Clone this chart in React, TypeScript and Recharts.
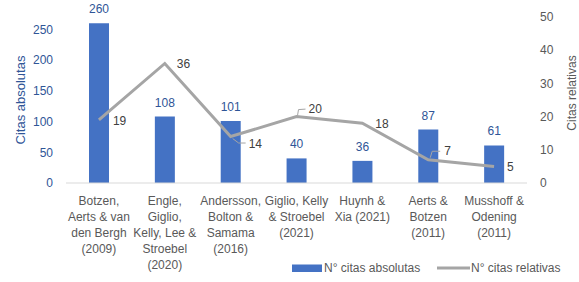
import React from "react";
import { ComposedChart, Bar, Line, XAxis, YAxis, LabelList, Legend } from "recharts";

const categories = [
  "Botzen,\nAerts & van\nden Bergh\n(2009)",
  "Engle,\nGiglio,\nKelly, Lee &\nStroebel\n(2020)",
  "Andersson,\nBolton &\nSamama\n(2016)",
  "Giglio, Kelly\n& Stroebel\n(2021)",
  "Huynh &\nXia (2021)",
  "Aerts &\nBotzen\n(2011)",
  "Musshoff &\nOdening\n(2011)",
];
const citasAbsolutas = [260, 108, 101, 40, 36, 87, 61];
const citasRelativas = [19, 36, 14, 20, 18, 7, 5];
const leftTicks = [0, 50, 100, 150, 200, 250];
const rightTicks = [0, 10, 20, 30, 40, 50];
const seriesNames = ["N° citas absolutas", "N° citas relativas"];
const axisTitles = ["Citas absolutas", "Citas relativas"];

const data = categories.map((name, i) => ({
  name,
  abs: citasAbsolutas[i],
  rel: citasRelativas[i],
}));

const FONT = "'Liberation Sans', Arial, sans-serif";
const BLUE = "#4472C4";
const BLUE_TEXT = "#2F5597";
const GREY_LINE = "#A5A5A5";
const GREY_TEXT = "#595959";
const DARK_TEXT = "#404040";

// label placement styles for the line labels: [dx, dy, leader type]
const relLabelStyle: [number, number, string][] = [
  [14, 1, ""],
  [12, 1, ""],
  [18, 7, "down"],
  [12, -7.5, "up"],
  [13, 1, ""],
  [16, -8.5, "up2"],
  [13, 0.5, ""],
];

const CategoryTick = (props: any) => {
  const { x, y, payload } = props;
  const lines = String(payload.value).split("\n");
  return (
    <text x={x} y={y} textAnchor="middle" fill={GREY_TEXT} fontSize={12} fontFamily={FONT}>
      {lines.map((l, i) => (
        <tspan key={i} x={x} dy={i === 0 ? 22 : 16}>
          {l}
        </tspan>
      ))}
    </text>
  );
};

const RelLabel = (props: any) => {
  const { x, y, value, index } = props;
  const [dx, dy, leader] = relLabelStyle[index] || [12, 0, ""];
  let path = "";
  if (leader === "down") path = `M${x + 2},${y + 2} L${x + 8},${y + 6.5} L${x + 15},${y + 6.5}`;
  if (leader === "up") path = `M${x + 1},${y - 1} L${x + 2},${y - 7} L${x + 9},${y - 7.5}`;
  if (leader === "up2") path = `M${x + 2},${y - 2} L${x + 4},${y - 8.5} L${x + 12},${y - 8.5}`;
  return (
    <g>
      {path && <path d={path} stroke={GREY_LINE} strokeWidth={1} fill="none" />}
      <text
        x={x + dx}
        y={y + dy}
        dominantBaseline="central"
        textAnchor="start"
        fill={DARK_TEXT}
        fontSize={12}
        fontFamily={FONT}
      >
        {value}
      </text>
    </g>
  );
};

const LegendContent = () => (
  <svg width={579} height={20} style={{ display: "block" }}>
    <rect x={292} y={6.5} width={30} height={7.5} fill={BLUE} />
    <text x={324} y={10} dominantBaseline="central" fill={GREY_TEXT} fontSize={12} fontFamily={FONT}>
      {seriesNames[0]}
    </text>
    <line x1={437} x2={470} y1={10} y2={10} stroke={GREY_LINE} strokeWidth={3} />
    <text x={471} y={10} dominantBaseline="central" fill={GREY_TEXT} fontSize={12} fontFamily={FONT}>
      {seriesNames[1]}
    </text>
  </svg>
);

export default function App() {
  return (
    <div style={{ position: "absolute", left: 0, top: 0, width: 579, height: 282, background: "#fff" }}>
      <ComposedChart
        width={579}
        height={282}
        data={data}
        margin={{ top: 17, right: 0, left: 0, bottom: 4 }}
        style={{ fontFamily: FONT }}
      >
        <XAxis
          dataKey="name"
          height={75}
          tick={<CategoryTick />}
          tickLine={false}
          tickSize={0}
          tickMargin={0}
          interval={0}
          axisLine={{ stroke: "#D9D9D9", strokeWidth: 1 }}
        />
        <YAxis
          yAxisId="left"
          orientation="left"
          width={66}
          domain={[0, 270]}
          ticks={leftTicks}
          tickLine={false}
          axisLine={false}
          tickSize={0}
          tickMargin={13}
          tick={{ fill: BLUE_TEXT, fontSize: 12, fontFamily: FONT }}
          label={{
            content: (p: any) => {
              const vb = p.viewBox || { x: 0, y: 17, width: 66, height: 166 };
              const cx = vb.x + 20;
              const cy = vb.y + vb.height / 2;
              return (
                <text
                  x={cx}
                  y={cy}
                  transform={`rotate(-90 ${cx} ${cy})`}
                  textAnchor="middle"
                  dominantBaseline="central"
                  fill={BLUE_TEXT}
                  fontSize={13}
                  fontFamily={FONT}
                >
                  {axisTitles[0]}
                </text>
              );
            },
          }}
        />
        <YAxis
          yAxisId="right"
          orientation="right"
          width={52}
          domain={[0, 50]}
          ticks={rightTicks}
          tickLine={false}
          axisLine={false}
          tickSize={0}
          tickMargin={13}
          tick={{ fill: GREY_TEXT, fontSize: 12, fontFamily: FONT }}
          label={{
            content: (p: any) => {
              const vb = p.viewBox || { x: 527, y: 17, width: 52, height: 166 };
              const cx = vb.x + 44.7;
              const cy = vb.y + vb.height / 2 - 7;
              return (
                <text
                  x={cx}
                  y={cy}
                  transform={`rotate(-90 ${cx} ${cy})`}
                  textAnchor="middle"
                  dominantBaseline="central"
                  fill={GREY_TEXT}
                  fontSize={12}
                  fontFamily={FONT}
                >
                  {axisTitles[1]}
                </text>
              );
            },
          }}
        />
        <Legend
          verticalAlign="bottom"
          align="left"
          wrapperStyle={{ left: 0, width: 579, height: 20 }}
          content={<LegendContent />}
        />
        <Bar yAxisId="left" dataKey="abs" name={seriesNames[0]} fill={BLUE} barSize={20} isAnimationActive={false}>
          <LabelList
            dataKey="abs"
            position="top"
            offset={10}
            fill={BLUE_TEXT}
            fontSize={12}
            fontFamily={FONT}
          />
        </Bar>
        <Line
          yAxisId="right"
          dataKey="rel"
          name={seriesNames[1]}
          type="linear"
          stroke={GREY_LINE}
          strokeWidth={3}
          dot={false}
          activeDot={false}
          isAnimationActive={false}
        >
          <LabelList dataKey="rel" content={<RelLabel />} />
        </Line>
      </ComposedChart>
    </div>
  );
}
